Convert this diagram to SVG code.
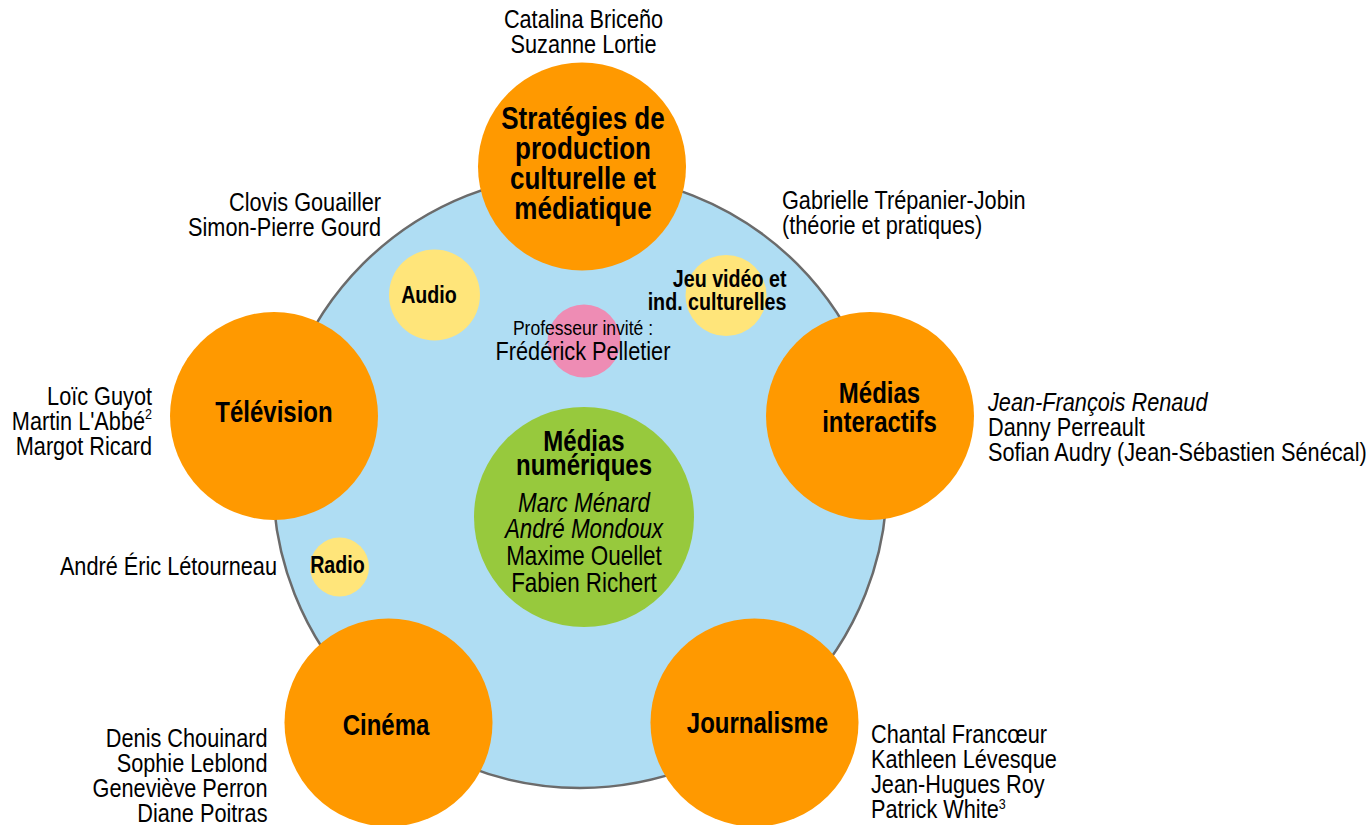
<svg xmlns="http://www.w3.org/2000/svg" width="1371" height="825" viewBox="0 0 1371 825">
<style>
text { font-family: "Liberation Sans", Arial, sans-serif; fill: #000; }
.name { font-size: 26px; }
.big { font-size: 30px; font-weight: bold; text-anchor: middle; }
.strat { font-size: 31px; font-weight: bold; text-anchor: middle; }
.sm { font-size: 24px; font-weight: bold; }
.green { font-size: 27px; text-anchor: middle; }
.orange { fill: #ff9900; }
.yellow { fill: #ffe57a; }
.r { text-anchor: end; }
.c { text-anchor: middle; }
.i { font-style: italic; }
.sup { font-size: 15px; }
</style>
<rect width="1371" height="825" fill="#ffffff"/>

<g id="domaine">
  <circle cx="580" cy="481" r="307" fill="#afddf3" stroke="#6b6b6b" stroke-width="2.5"/>
</g>

<g id="medias-numeriques">
  <circle cx="584" cy="517" r="110" fill="#97c93d"/>
  <g transform="scale(0.8 1)">
    <text class="big" x="730" y="451">Médias</text>
    <text class="big" x="730" y="475">numériques</text>
  </g>
  <g transform="scale(0.83 1)">
    <text class="green i" x="703.61" y="512">Marc Ménard</text>
    <text class="green i" x="703.61" y="538">André Mondoux</text>
    <text class="green" x="703.61" y="565">Maxime Ouellet</text>
    <text class="green" x="703.61" y="592">Fabien Richert</text>
  </g>
</g>

<g id="professeur-invite">
  <circle cx="584" cy="341" r="36.5" fill="#ee8cb4"/>
  <g transform="scale(0.835 1)">
    <text class="c" x="698.2" y="335" style="font-size:21px">Professeur invité :</text>
    <text class="name c" x="698.2" y="360">Frédérick Pelletier</text>
  </g>
</g>

<g id="audio">
  <circle cx="434.5" cy="295" r="45.5" class="yellow"/>
  <g transform="scale(0.82 1)">
    <text class="sm c" x="523.17" y="303">Audio</text>
  </g>
</g>

<g id="jeu-video">
  <circle cx="726" cy="295.5" r="40.5" class="yellow"/>
  <g transform="scale(0.82 1)">
    <text class="sm r" x="959.15" y="287">Jeu vidéo et</text>
    <text class="sm r" x="959.15" y="310">ind. culturelles</text>
  </g>
</g>

<g id="radio">
  <circle cx="339.5" cy="567" r="29.5" class="yellow"/>
  <g transform="scale(0.82 1)">
    <text class="sm c" x="411.59" y="573">Radio</text>
  </g>
</g>

<g id="strategies">
  <circle cx="582" cy="166.5" r="104" class="orange"/>
  <g transform="scale(0.84 1)">
    <text class="strat" x="694.05" y="129">Stratégies de</text>
    <text class="strat" x="694.05" y="159">production</text>
    <text class="strat" x="694.05" y="189">culturelle et</text>
    <text class="strat" x="694.05" y="219">médiatique</text>
  </g>
  <g transform="scale(0.835 1)">
    <text class="name c" x="698.8" y="28">Catalina Briceño</text>
    <text class="name c" x="698.8" y="53">Suzanne Lortie</text>
  </g>
</g>

<g id="medias-interactifs">
  <circle cx="870" cy="416" r="104" class="orange"/>
  <g transform="scale(0.8 1)">
    <text class="big" x="1099.38" y="403">Médias</text>
    <text class="big" x="1099.38" y="432">interactifs</text>
  </g>
  <g transform="scale(0.835 1)">
    <text class="name i" x="1183.23" y="411">Jean-François Renaud</text>
    <text class="name" x="1183.23" y="436">Danny Perreault</text>
    <text class="name" x="1183.23" y="461">Sofian Audry (Jean-Sébastien Sénécal)</text>
  </g>
</g>

<g id="journalisme">
  <circle cx="754.5" cy="722.5" r="104" class="orange"/>
  <g transform="scale(0.8 1)">
    <text class="big" x="946.88" y="733">Journalisme</text>
  </g>
  <g transform="scale(0.835 1)">
    <text class="name" x="1043.11" y="743">Chantal Francœur</text>
    <text class="name" x="1043.11" y="768">Kathleen Lévesque</text>
    <text class="name" x="1043.11" y="793">Jean-Hugues Roy</text>
    <text class="name" x="1043.11" y="818">Patrick White<tspan class="sup" dy="-9">3</tspan></text>
  </g>
</g>

<g id="cinema">
  <circle cx="388.5" cy="722.5" r="104" class="orange"/>
  <g transform="scale(0.8 1)">
    <text class="big" x="482.5" y="735">Cinéma</text>
  </g>
  <g transform="scale(0.835 1)">
    <text class="name r" x="320.36" y="747">Denis Chouinard</text>
    <text class="name r" x="320.36" y="772">Sophie Leblond</text>
    <text class="name r" x="320.36" y="797">Geneviève Perron</text>
    <text class="name r" x="320.36" y="822">Diane Poitras</text>
  </g>
</g>

<g id="television">
  <circle cx="274" cy="416" r="104" class="orange"/>
  <g transform="scale(0.8 1)">
    <text class="big" x="342.5" y="422">Télévision</text>
  </g>
  <g transform="scale(0.835 1)">
    <text class="name r" x="182.04" y="405">Loïc Guyot</text>
    <text class="name r" x="182.04" y="430">Martin L'Abbé<tspan class="sup" dy="-11">2</tspan></text>
    <text class="name r" x="182.04" y="455">Margot Ricard</text>
  </g>
</g>

<g id="noms-audio-radio">
  <g transform="scale(0.835 1)">
    <text class="name r" x="456.29" y="211">Clovis Gouailler</text>
    <text class="name r" x="456.29" y="236">Simon-Pierre Gourd</text>
    <text class="name r" x="331.74" y="575">André Éric Létourneau</text>
  </g>
</g>

<g id="noms-jeu-video">
  <g transform="scale(0.835 1)">
    <text class="name" x="936.53" y="209.5">Gabrielle Trépanier-Jobin</text>
    <text class="name" x="936.53" y="234">(théorie et pratiques)</text>
  </g>
</g>

<g id="connecteurs"></g>
</svg>
